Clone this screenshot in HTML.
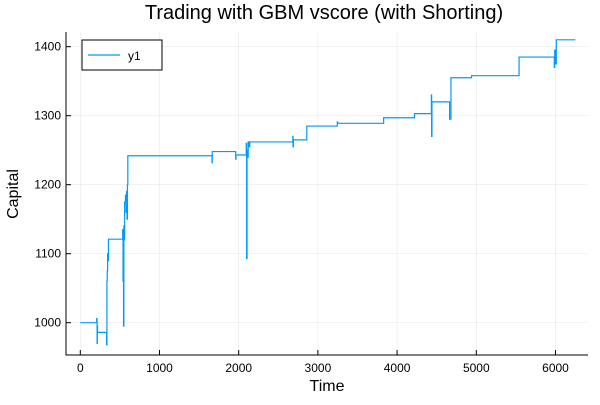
<!DOCTYPE html>
<html><head><meta charset="utf-8"><style>
body{margin:0;background:#fff;font-family:"Liberation Sans",sans-serif}
svg text{font-family:"Liberation Sans",sans-serif}
</style></head><body>
<svg width="600" height="400" xmlns="http://www.w3.org/2000/svg">
<rect width="600" height="400" fill="#fff"/>
<g id="grid"></g>
<g id="axes"></g>
<polyline id="line" fill="none" stroke="#009af9" stroke-width="1.2"/>
<text x="324" y="19" font-size="20" text-anchor="middle" fill="#000">Trading with GBM vscore (with Shorting)</text>
<text x="327" y="391" font-size="16" text-anchor="middle">Time</text>
<text x="18" y="194" font-size="16" text-anchor="middle" transform="rotate(-90 18 194)">Capital</text>
<g>
<rect x="82" y="40" width="80" height="30" fill="#fff" stroke="#000" stroke-width="1"/>
<line x1="88" y1="55" x2="120" y2="55" stroke="#009af9" stroke-width="1.2"/>
<text x="128" y="60" font-size="12">y1</text>
</g>
</svg>
<script>
const times=[0,205,207,212,215,218,222,330,332,336,340,345,348,355,360,530,535,540,543,546,550,555,560,570,578,585,590,595,600,1660,1663,1666,1670,1960,1962,1966,2090,2095,2100,2105,2110,2120,2130,2140,2680,2683,2686,2690,2860,3240,3245,3250,3830,4220,4430,4433,4436,4440,4660,4663,4680,4940,5540,5980,5985,5990,5995,6010,6250];
const values=[1000,1000,1006,970,995,986,986,986,968,1060,1075,1100,1090,1121,1121,1121,1135,1060,1130,995,1140,1120,1175,1185,1160,1190,1150,1200,1242,1242,1232,1248,1248,1248,1237,1243,1243,1260,1093,1250,1240,1262,1255,1262,1262,1270,1255,1265,1285,1285,1291,1289,1297,1303,1303,1330,1270,1320,1320,1295,1355,1358,1385,1385,1370,1395,1375,1410,1410];
const xTicks=[0,1000,2000,3000,4000,5000,6000];
const yTicks=[1000,1100,1200,1300,1400];
const X=t=>80.3+t*0.0792, Y=v=>322.7-(v-1000)*0.69;
const L=66,R=588,T=32,B=355, ns="http://www.w3.org/2000/svg";
const grid=document.getElementById('grid'), axes=document.getElementById('axes');
function mk(tag,attrs,parent){const e=document.createElementNS(ns,tag);for(const k in attrs)e.setAttribute(k,attrs[k]);parent.appendChild(e);return e;}
xTicks.forEach(t=>{
 const g=mk('line',{x1:X(t),x2:X(t),y1:T,y2:B,stroke:'#000','stroke-opacity':0.1,'stroke-width':0.5},grid);
 
 
 const tk=mk('line',{x1:X(t),x2:X(t),y1:B,y2:B-5,stroke:'#000','stroke-width':1},axes);
 
 
 const tx=mk('text',{x:X(t),y:B+17,'font-size':12,'text-anchor':'middle'},axes);tx.textContent=t;
 
 
});
yTicks.forEach(v=>{
 const g=mk('line',{x1:L,x2:R,y1:Y(v),y2:Y(v),stroke:'#000','stroke-opacity':0.1,'stroke-width':0.5},grid);
 
 
 const tk=mk('line',{x1:L,x2:L+5,y1:Y(v),y2:Y(v),stroke:'#000','stroke-width':1},axes);
 
 
 const tx=mk('text',{x:L-5,y:Y(v)+4,'font-size':12,'text-anchor':'end'},axes);tx.textContent=v;
 
 
});
const ax=mk('path',{d:`M${L},${T}V${B}H${R}`,fill:'none',stroke:'#000','stroke-width':1},axes);


let pts=[];
for(let i=0;i<times.length;i++){
 if(i>0&&times[i]!==times[i-1])pts.push(X(times[i])+','+Y(values[i-1]));
 pts.push(X(times[i])+','+Y(values[i]));
}
document.getElementById('line').setAttribute('points',pts.join(' '));
</script>
</body></html>
